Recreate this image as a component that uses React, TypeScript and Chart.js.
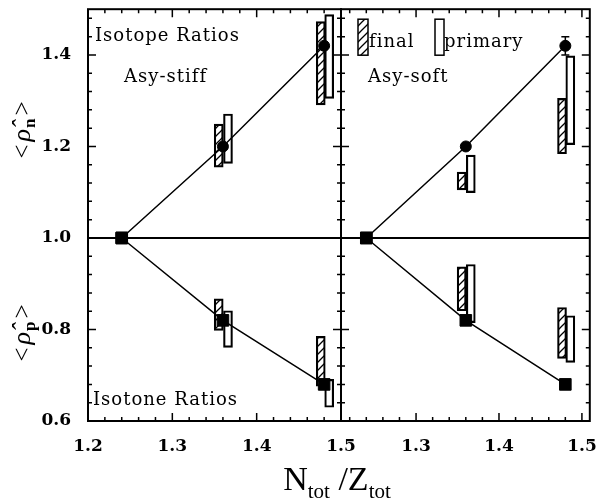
import React, { useEffect, useRef } from 'react';
import { Chart, registerables } from 'chart.js';
Chart.register(...registerables);

// ---- data ----
const xPoints = [1.24, 1.36, 1.48];
const stiffNeutron = [1.0, 1.2, 1.42];
const stiffProton = [1.0, 0.82, 0.68];
const softNeutron = [1.0, 1.2, 1.42];
const softProton = [1.0, 0.82, 0.68];
const stiffNeutronErr = [0, 0, 0];
const softNeutronErr = [0, 0, 0.02];

const finalX = [1.355, 1.476];
const primaryX = [1.366, 1.486];

const stiffNeutronFinal = [[1.155, 1.249], [1.291, 1.473]];
const stiffNeutronPrimary = [[1.163, 1.271], [1.305, 1.488]];
const stiffProtonFinal = [[0.798, 0.867], [0.676, 0.785]];
const stiffProtonPrimary = [[0.761, 0.841], [0.630, 0.691]];

const softNeutronFinal = [[1.105, 1.144], [1.184, 1.305]];
const softNeutronPrimary = [[1.099, 1.181], [1.204, 1.398]];
const softProtonFinal = [[0.841, 0.937], [0.737, 0.848]];
const softProtonPrimary = [[0.815, 0.942], [0.728, 0.830]];

const xTicksLeft = [1.2, 1.3, 1.4, 1.5];
const xTicksRight = [1.3, 1.4, 1.5];
const yTicks = [0.6, 0.8, 1.0, 1.2, 1.4];
const xMinorStep = 0.02;
const yMinorStep = 0.04;

const TICK_FONT = { family: 'DejaVu Serif', size: 17, weight: 'bold' as const };
const ANN_FONT = '18px "DejaVu Serif"';

function makeHatch(ctx: CanvasRenderingContext2D) {
  const c = document.createElement('canvas');
  c.width = 8; c.height = 8;
  const g = c.getContext('2d')!;
  g.strokeStyle = '#000';
  g.lineWidth = 1.3;
  g.beginPath();
  g.moveTo(0, 8); g.lineTo(8, 0);
  g.moveTo(-2, 2); g.lineTo(2, -2);
  g.moveTo(6, 10); g.lineTo(10, 6);
  g.stroke();
  return ctx.createPattern(c, 'repeat')!;
}

function lineDataset(ys: number[], styles: string[], radii: number[]) {
  return {
    type: 'line' as const,
    data: xPoints.map((x, i) => ({ x, y: ys[i] })),
    borderColor: '#000',
    borderWidth: 1.5,
    backgroundColor: '#000',
    pointBackgroundColor: '#000',
    pointBorderColor: '#000',
    pointBorderWidth: 1,
    pointStyle: styles,
    pointRadius: radii,
    tension: 0,
    fill: false,
  };
}

function barDataset(xs: number[], ranges: number[][], fill: any) {
  return {
    type: 'bar' as const,
    data: xs.map((x, i) => ({ x, y: ranges[i] })),
    backgroundColor: fill,
    borderColor: '#000',
    borderWidth: 1.5,
    borderSkipped: false,
    barThickness: 9,
    grouped: false,
  };
}

function tickAligned(v: number, step: number) {
  return Math.abs(v / step - Math.round(v / step)) < 1e-6;
}

function drawText(ctx: CanvasRenderingContext2D, t: string, x: number, y: number, font = ANN_FONT, spacing = '1px') {
  ctx.save();
  ctx.font = font;
  (ctx as any).letterSpacing = spacing;
  ctx.fillStyle = '#000';
  ctx.textBaseline = 'alphabetic';
  ctx.textAlign = 'left';
  ctx.fillText(t, x, y);
  ctx.restore();
}

function drawRhoTitle(ctx: CanvasRenderingContext2D, cx: number, cy: number, sub: string) {
  const parts = [
    { t: '<', font: '25px "Liberation Serif"', dy: 0, gap: 3 },
    { t: 'ρ\u0302', font: 'italic 26px "Liberation Serif"', dy: 0, gap: 1 },
    { t: sub, font: 'bold 17px "Liberation Serif"', dy: 5, gap: 3 },
    { t: '>', font: '25px "Liberation Serif"', dy: 0, gap: 0 },
  ];
  ctx.save();
  ctx.translate(cx, cy);
  ctx.rotate(-Math.PI / 2);
  ctx.fillStyle = '#000';
  ctx.textBaseline = 'alphabetic';
  let total = 0;
  const widths = parts.map(p => { ctx.font = p.font; const w = ctx.measureText(p.t).width; total += w + p.gap; return w; });
  let x = -total / 2;
  parts.forEach((p, i) => { ctx.font = p.font; ctx.fillText(p.t, x, p.dy); x += widths[i] + p.gap; });
  ctx.restore();
}

function drawXTitle(ctx: CanvasRenderingContext2D, cx: number, baseline: number) {
  const parts = [
    { t: 'N', font: '34px "Liberation Serif"', dy: 0 },
    { t: 'tot', font: '21px "Liberation Serif"', dy: 8 },
    { t: ' /Z', font: '34px "Liberation Serif"', dy: 0 },
    { t: 'tot', font: '21px "Liberation Serif"', dy: 8 },
  ];
  ctx.save();
  ctx.fillStyle = '#000';
  ctx.textBaseline = 'alphabetic';
  let total = 0;
  const widths = parts.map(p => { ctx.font = p.font; const w = ctx.measureText(p.t).width; total += w; return w; });
  let x = cx - total / 2;
  parts.forEach((p, i) => { ctx.font = p.font; ctx.fillText(p.t, x, baseline + p.dy); x += widths[i]; });
  ctx.restore();
}

type PanelCfg = {
  side: 'left' | 'right';
  neutron: number[];
  err: number[];
  hatch: () => CanvasPattern;
};

function panelPlugin(cfg: PanelCfg) {
  return {
    id: 'panel-' + cfg.side,
    beforeDatasetsDraw(chart: any) {
      const ctx: CanvasRenderingContext2D = chart.ctx;
      const { left, right, top, bottom } = chart.chartArea;
      const xs = chart.scales.x, ys = chart.scales.y;
      ctx.save();
      ctx.strokeStyle = '#000';
      ctx.lineWidth = 2;
      ctx.strokeRect(left, top, right - left, bottom - top);
      const y1 = ys.getPixelForValue(1.0);
      ctx.beginPath(); ctx.moveTo(left, y1); ctx.lineTo(right, y1); ctx.stroke();
      ctx.lineWidth = 1.5;
      ctx.beginPath();
      const i0 = Math.ceil(xs.min / xMinorStep - 1e-6);
      for (let i = i0; i * xMinorStep <= xs.max + 1e-9; i++) {
        const v = i * xMinorStep;
        const px = xs.getPixelForValue(v);
        if (px <= left + 1 || px >= right - 1) continue;
        const len = tickAligned(v, 0.1) ? 8 : 4;
        ctx.moveTo(px, bottom); ctx.lineTo(px, bottom - len);
        ctx.moveTo(px, top); ctx.lineTo(px, top + len);
      }
      const j0 = Math.ceil(ys.min / yMinorStep - 1e-6);
      for (let j = j0; j * yMinorStep <= ys.max + 1e-9; j++) {
        const v = j * yMinorStep;
        const py = ys.getPixelForValue(v);
        if (py <= top + 1 || py >= bottom - 1) continue;
        const len = tickAligned(v, 0.2) ? 8 : 4;
        ctx.moveTo(left, py); ctx.lineTo(left + len, py);
        ctx.moveTo(right, py); ctx.lineTo(right - len, py);
      }
      ctx.stroke();
      ctx.lineWidth = 1.5;
      cfg.err.forEach((e, i) => {
        if (!e) return;
        const px = xs.getPixelForValue(xPoints[i]);
        const ya = ys.getPixelForValue(cfg.neutron[i] + e);
        const yb = ys.getPixelForValue(cfg.neutron[i] - e);
        ctx.beginPath();
        ctx.moveTo(px, ya); ctx.lineTo(px, yb);
        ctx.moveTo(px - 4, ya); ctx.lineTo(px + 4, ya);
        ctx.moveTo(px - 4, yb); ctx.lineTo(px + 4, yb);
        ctx.stroke();
      });
      ctx.restore();
    },
    afterDraw(chart: any) {
      const ctx: CanvasRenderingContext2D = chart.ctx;
      const { left, top, bottom } = chart.chartArea;
      if (cfg.side === 'left') {
        drawText(ctx, 'Isotope Ratios', left + 7, top + 32);
        drawText(ctx, 'Asy-stiff', left + 36, top + 73);
        drawText(ctx, 'Isotone Ratios', left + 5, bottom - 16);
        drawRhoTitle(ctx, 30, 130, 'n');
        drawRhoTitle(ctx, 30, 333, 'p');
        drawXTitle(ctx, 337, 490);
      } else {
        drawText(ctx, 'Asy-soft', left + 27, top + 73);
        ctx.save();
        ctx.lineWidth = 1.5;
        ctx.strokeStyle = '#000';
        ctx.fillStyle = cfg.hatch();
        ctx.fillRect(left + 17, top + 10, 10, 36);
        ctx.strokeRect(left + 17, top + 10, 10, 36);
        ctx.strokeRect(left + 94, top + 10, 9, 36);
        ctx.restore();
        drawText(ctx, 'final', left + 28, top + 38);
        drawText(ctx, 'primary', left + 103, top + 38);
      }
    },
  };
}

function buildConfig(side: 'left' | 'right', hatch: CanvasPattern) {
  const isLeft = side === 'left';
  const neutron = isLeft ? stiffNeutron : softNeutron;
  const proton = isLeft ? stiffProton : softProton;
  const nF = isLeft ? stiffNeutronFinal : softNeutronFinal;
  const nP = isLeft ? stiffNeutronPrimary : softNeutronPrimary;
  const pF = isLeft ? stiffProtonFinal : softProtonFinal;
  const pP = isLeft ? stiffProtonPrimary : softProtonPrimary;
  const err = isLeft ? stiffNeutronErr : softNeutronErr;
  const clear = 'rgba(0,0,0,0)';
  const xTicks = isLeft ? xTicksLeft : xTicksRight;
  return {
    type: 'scatter' as const,
    data: {
      datasets: [
        lineDataset(neutron, ['rect', 'circle', 'circle'], [8.2, 5.5, 5.5]),
        lineDataset(proton, ['rect', 'rect', 'rect'], [8.2, 8.2, 8.2]),
        barDataset(finalX, nF, hatch),
        barDataset(primaryX, nP, clear),
        barDataset(finalX, pF, hatch),
        barDataset(primaryX, pP, clear),
      ] as any[],
    },
    options: {
      responsive: false,
      animation: false,
      events: [],
      layout: { padding: isLeft ? { left: 0, top: 7, right: 599 - 341, bottom: 0 } : { left: 341, top: 7, right: 6, bottom: 0 } },
      plugins: { legend: { display: false }, tooltip: { enabled: false } },
      scales: {
        x: {
          type: 'linear',
          min: isLeft ? 1.2 : 1.2095,
          max: isLeft ? 1.5 : 1.5095,
          offset: false,
          grid: { display: false, offset: false },
          border: { display: false },
          afterBuildTicks: (s: any) => { s.ticks = xTicks.map(v => ({ value: v })); },
          afterFit: (s: any) => { s.height = 80; s.paddingLeft = 0; s.paddingRight = 0; s.paddingTop = 0; s.paddingBottom = 0; },
          ticks: {
            font: TICK_FONT, color: '#000', padding: 7, maxRotation: 0, autoSkip: false,
            callback: (v: any) => Number(v).toFixed(1),
          },
        },
        y: {
          type: 'linear',
          display: isLeft,
          min: 0.6,
          max: 1.5,
          grid: { display: false },
          border: { display: false },
          afterBuildTicks: (s: any) => { s.ticks = yTicks.map(v => ({ value: v })); },
          afterFit: (s: any) => { s.width = isLeft ? 88 : 0; s.paddingLeft = 0; s.paddingRight = 0; s.paddingTop = 0; s.paddingBottom = 0; },
          ticks: {
            font: TICK_FONT, color: '#000', padding: 9, autoSkip: false,
            callback: (v: any) => Number(v).toFixed(1),
          },
        },
      },
    },
    plugins: [panelPlugin({ side, neutron, err, hatch: () => hatch })],
  };
}

export default function App() {
  const leftRef = useRef<HTMLCanvasElement>(null);
  const rightRef = useRef<HTMLCanvasElement>(null);
  useEffect(() => {
    const lctx = leftRef.current!.getContext('2d')!;
    const rctx = rightRef.current!.getContext('2d')!;
    const left = new Chart(lctx, buildConfig('left', makeHatch(lctx)) as any);
    const right = new Chart(rctx, buildConfig('right', makeHatch(rctx)) as any);
    return () => { left.destroy(); right.destroy(); };
  }, []);
  const cs: React.CSSProperties = { position: 'absolute', left: 0, top: 0, width: 599, height: 501 };
  return (
    <div style={{ position: 'absolute', left: 0, top: 0, width: 599, height: 501, background: '#fff' }}>
      <canvas ref={leftRef} width={599} height={501} style={cs} />
      <canvas ref={rightRef} width={599} height={501} style={cs} />
    </div>
  );
}
